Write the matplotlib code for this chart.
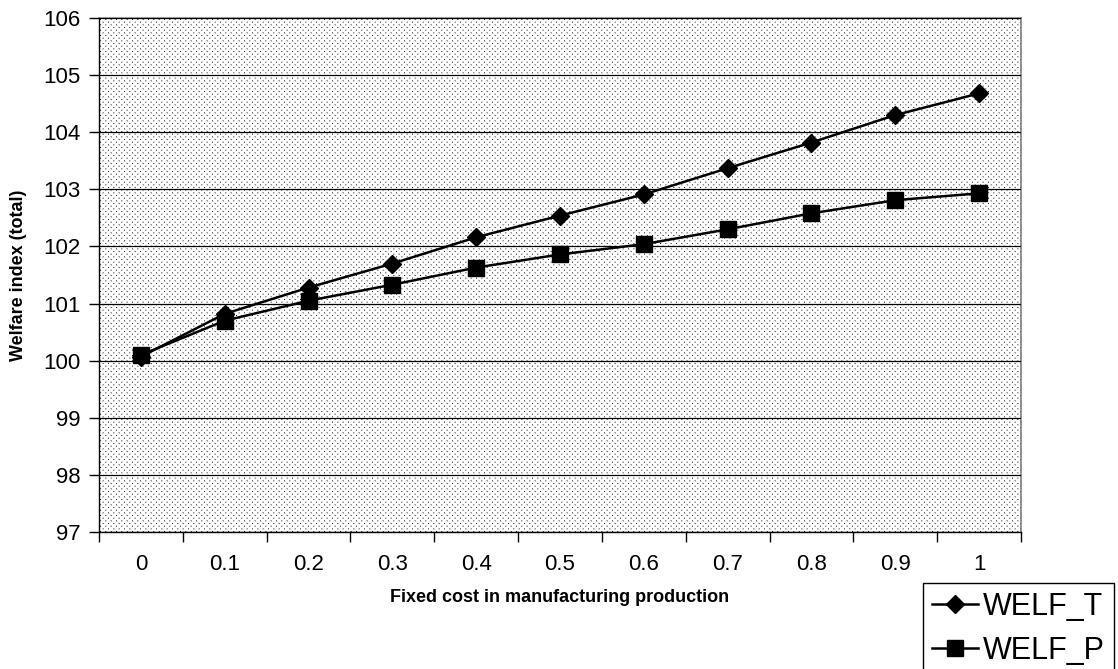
import numpy as np
import matplotlib
matplotlib.use('Agg')
import matplotlib.pyplot as plt

plt.rcParams['font.family'] = ['Liberation Sans', 'DejaVu Sans']

cost = ['0', '0.1', '0.2', '0.3', '0.4', '0.5', '0.6', '0.7', '0.8', '0.9', '1']
welf_t = [100.07, 100.82, 101.28, 101.70, 102.16, 102.54, 102.91, 103.37, 103.82, 104.30, 104.68]
welf_p = [100.10, 100.70, 101.05, 101.33, 101.63, 101.86, 102.04, 102.30, 102.58, 102.81, 102.93]

W, H = 1118, 669
fig = plt.figure(figsize=(W / 100, H / 100), dpi=100)
left, right, top, bottom = 99, 1021, 18, 532
ax = fig.add_axes([left / W, 1 - bottom / H, (right - left) / W, (bottom - top) / H])

n = len(cost)
ax.set_xlim(0, n)
ax.set_ylim(97, 106)

# dotted fill, like a scaled-up Excel pattern: staggered dots splatted bilinearly
pw, ph = right - left, bottom - top
dark = np.zeros((ph + 2, pw + 2))
step = 16 / 3
for j, yy in enumerate(np.arange(1, ph, step / 2)):
    off = (j % 2) * step / 2
    xs = np.arange(1 + off, pw, step)
    y0, fy = int(yy), yy - int(yy)
    x0 = xs.astype(int)
    fx = xs - x0
    dark[y0, x0] += (1 - fx) * (1 - fy)
    dark[y0, x0 + 1] += fx * (1 - fy)
    dark[y0 + 1, x0] += (1 - fx) * fy
    dark[y0 + 1, x0 + 1] += fx * fy
dark = np.clip(dark[:ph, :pw] * 0.9, 0, 1)
img = np.repeat((1 - dark)[:, :, None], 3, axis=2)
ax.imshow(img, extent=[0, n, 97, 106], aspect='auto', interpolation='nearest', zorder=0)

ax.yaxis.grid(True, color='black', linewidth=0.9, zorder=1)
ax.set_axisbelow(False)

x = np.arange(n) + 0.5
ax.plot(x, welf_t, color='black', lw=1.8, marker='D', ms=9, label='WELF_T', zorder=3)
ax.plot(x, welf_p, color='black', lw=1.8, marker='s', ms=11.5, label='WELF_P', zorder=3)

ax.set_yticks(range(97, 107))
ax.set_xticks(np.arange(n + 1))
ax.set_xticklabels([])
ax.set_xticks(x, minor=True)
ax.set_xticklabels(cost, minor=True)
ax.tick_params(axis='x', which='major', direction='out', length=7, width=1, color='black')
ax.tick_params(axis='x', which='minor', length=0, pad=16, labelsize=16)
ax.tick_params(axis='y', direction='out', length=7, width=1, labelsize=16, pad=6)

for s in ['top', 'right']:
    ax.spines[s].set_color('#808080')
    ax.spines[s].set_linewidth(1.2)
for s in ['left', 'bottom']:
    ax.spines[s].set_color('black')
    ax.spines[s].set_linewidth(1)

ax.set_xlabel('Fixed cost in manufacturing production', fontsize=13, fontweight='bold', labelpad=10)
ax.set_ylabel('Welfare index (total)', fontsize=13, fontweight='bold', labelpad=12)

leg = fig.legend(loc='upper left', bbox_to_anchor=(923 / W, 1 - 583 / H), fontsize=22,
                 frameon=True, fancybox=False, edgecolor='black', framealpha=1,
                 handlelength=1.5, handletextpad=0.15, borderpad=0.3, labelspacing=0.45,
                 borderaxespad=0)
leg.get_frame().set_linewidth(1)

fig.savefig('out.png', dpi=100)
